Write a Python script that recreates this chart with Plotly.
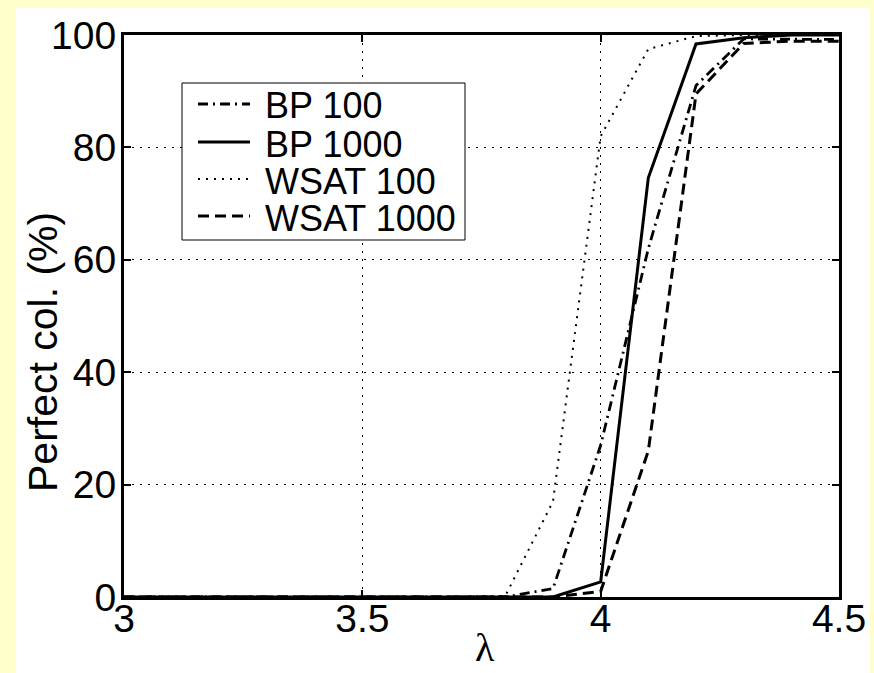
import plotly.graph_objects as go

# ---- data ----
lam = [3.0, 3.1, 3.2, 3.3, 3.4, 3.5, 3.6, 3.7, 3.8, 3.9, 4.0, 4.1, 4.2, 4.3, 4.4, 4.5]
bp_100 = [0, 0, 0, 0, 0, 0, 0, 0, 0, 1.5, 27, 62, 91, 99.3, 99.2, 99.2]
bp_1000 = [0, 0, 0, 0, 0, 0, 0, 0, 0, 0, 2.7, 74.6, 98.4, 99.5, 100, 100]
wsat_100 = [0, 0, 0, 0, 0, 0, 0, 0, 0.2, 17, 82, 97.5, 99.8, 100, 100, 100]
wsat_1000 = [0, 0, 0, 0, 0, 0, 0, 0, 0, 0, 1, 26, 89.5, 98.5, 98.9, 98.9]

series_names = ["BP 100", "BP 1000", "WSAT 100", "WSAT 1000"]
x_ticks = [3, 3.5, 4, 4.5]
x_tick_text = ["3", "3.5", "4", "4.5"]
y_ticks = [0, 20, 40, 60, 80, 100]
y_tick_text = ["0", "20", "40", "60", "80", "100"]
x_title = "λ"
y_title = "Perfect col. (%)"

styles = [
    dict(width=2.8, dash="10px,5px,2px,5px"),
    dict(width=3, dash="solid"),
    dict(width=2, dash="2px,6px"),
    dict(width=3, dash="11px,6px"),
]
all_series = [bp_100, bp_1000, wsat_100, wsat_1000]

W, H = 874, 673
L, R, T, B = 124, 35, 35, 76
PW, PH = W - L - R, H - T - B


def px_x(p):
    return (p - L) / PW


def px_y(p):
    return (H - B - p) / PH


fig = go.Figure()
for name, vals, st in zip(series_names, all_series, styles):
    fig.add_trace(go.Scatter(
        x=lam, y=vals, mode="lines", name=name, showlegend=False,
        line=dict(color="black", width=st["width"], dash=st["dash"]),
        hoverinfo="skip",
    ))

font_main = "Liberation Sans, Arial, sans-serif"

shapes = [
    # white figure area inside the yellow frame
    dict(type="rect", xref="paper", yref="paper", layer="below",
         x0=px_x(16), x1=px_x(870), y0=px_y(H + 20), y1=px_y(8),
         fillcolor="white", line=dict(width=0)),
    # legend box
    dict(type="rect", xref="paper", yref="paper", layer="above",
         x0=px_x(182), x1=px_x(465), y0=px_y(240), y1=px_y(83),
         fillcolor="white", line=dict(color="black", width=1)),
]
annotations = []
legend_rows = [104, 142, 179, 216]
for name, st, yc in zip(series_names, styles, legend_rows):
    shapes.append(dict(type="line", xref="paper", yref="paper", layer="above",
                       x0=px_x(198), x1=px_x(250), y0=px_y(yc), y1=px_y(yc),
                       line=dict(color="black", width=st["width"], dash=st["dash"])))
    annotations.append(dict(text=name, xref="paper", yref="paper",
                            x=px_x(263), y=px_y(yc + 2), xanchor="left", yanchor="middle",
                            showarrow=False,
                            font=dict(family=font_main, size=36, color="black")))

# axis titles
annotations.append(dict(text=y_title, xref="paper", yref="paper",
                        x=px_x(43), y=px_y(352), xanchor="center", yanchor="middle",
                        textangle=-90, showarrow=False,
                        font=dict(family=font_main, size=41, color="black")))
annotations.append(dict(text=x_title, xref="paper", yref="paper",
                        x=px_x(485), y=px_y(672), xanchor="center", yanchor="bottom",
                        showarrow=False,
                        font=dict(family="Liberation Serif, serif", size=40, color="black")))

axis_common = dict(
    showline=True, linecolor="black", linewidth=3, mirror="allticks",
    ticks="inside", ticklen=7, tickwidth=2, tickcolor="black",
    showgrid=True, gridcolor="black", gridwidth=1, griddash="2px,6px",
    zeroline=False, tickfont=dict(family=font_main, size=39, color="black"),
    layer="above traces", automargin=False,
)

fig.update_layout(
    width=W, height=H, autosize=False,
    margin=dict(l=L, r=R, t=T, b=B, pad=0),
    paper_bgcolor="#FFFFCC", plot_bgcolor="white",
    xaxis=dict(range=[3, 4.5], tickvals=x_ticks, ticktext=x_tick_text,
               ticklabelstandoff=-15, **axis_common),
    yaxis=dict(range=[0, 100], tickvals=y_ticks, ticktext=y_tick_text,
               ticklabelstandoff=-3, **axis_common),
    shapes=shapes, annotations=annotations, showlegend=False,
)

fig.write_html("out.html", config={"displayModeBar": False},
               post_script="document.body.style.margin='0';document.body.style.overflow='hidden';")
